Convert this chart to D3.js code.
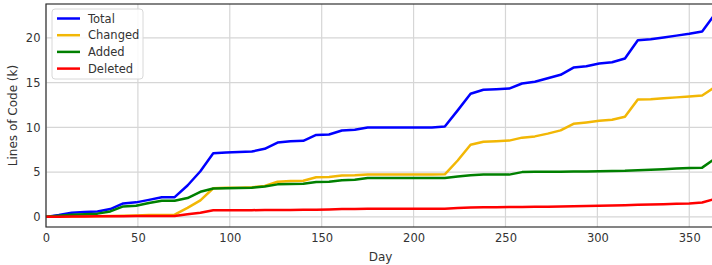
<!DOCTYPE html>
<html>
<head>
<meta charset="utf-8">
<script src="https://cdn.jsdelivr.net/npm/d3@7"></script>
<style>
  body { margin: 0; background: #fff; }
  text { font-family: "DejaVu Sans", sans-serif; fill: #333; }
</style>
</head>
<body>
<div id="chart"></div>
<script>
// weekly snapshots, values in thousands of lines
const days = d3.range(0, 365, 7)

const total = [0, 0.2, 0.47, 0.55, 0.61, 0.87, 1.5, 1.62, 1.9, 2.2, 2.2, 3.5, 5.1, 7.1,
  7.2, 7.25, 7.3, 7.6, 8.3, 8.45, 8.5, 9.15, 9.2, 9.65, 9.73, 9.98, 9.99, 9.99, 9.99, 9.99,
  9.99, 10.1, 11.9, 13.75, 14.2, 14.25, 14.33, 14.9, 15.09, 15.48, 15.87, 16.68, 16.83, 17.13,
  17.28, 17.69, 19.73, 19.85, 20.05, 20.25, 20.45, 20.7, 22.65]

const changed = [0, 0.02, 0.05, 0.06, 0.08, 0.1, 0.13, 0.15, 0.2, 0.22, 0.25, 1.0, 1.85, 3.2,
  3.25, 3.25, 3.3, 3.45, 3.92, 4.0, 4.03, 4.43, 4.45, 4.62, 4.65, 4.73, 4.74, 4.74, 4.74, 4.74,
  4.74, 4.75, 6.3, 8.05, 8.4, 8.45, 8.52, 8.85, 8.99, 9.3, 9.66, 10.4, 10.55, 10.73,
  10.85, 11.18, 13.1, 13.14, 13.24, 13.35, 13.45, 13.56, 14.5]

const added = [0, 0.12, 0.25, 0.3, 0.36, 0.61, 1.17, 1.25, 1.55, 1.8, 1.8, 2.1, 2.8, 3.17,
  3.2, 3.22, 3.25, 3.4, 3.63, 3.68, 3.7, 3.9, 3.92, 4.1, 4.15, 4.34, 4.34, 4.34, 4.34, 4.34,
  4.34, 4.34, 4.5, 4.64, 4.72, 4.72, 4.72, 5.0, 5.03, 5.04, 5.05, 5.06, 5.08, 5.1,
  5.12, 5.14, 5.2, 5.26, 5.32, 5.4, 5.45, 5.5, 6.5]

const deleted = [0, 0.02, 0.04, 0.05, 0.06, 0.07, 0.08, 0.09, 0.1, 0.1, 0.1, 0.28, 0.45, 0.74,
  0.75, 0.75, 0.75, 0.76, 0.77, 0.78, 0.79, 0.8, 0.82, 0.87, 0.88, 0.9, 0.9, 0.9, 0.9, 0.9,
  0.9, 0.9, 0.98, 1.05, 1.07, 1.08, 1.09, 1.1, 1.12, 1.14, 1.16, 1.18, 1.2, 1.25,
  1.28, 1.3, 1.35, 1.38, 1.42, 1.46, 1.5, 1.6, 2.0]

const seriesNames = ['Total', 'Changed', 'Added', 'Deleted']
const seriesColors = ['#0000ff', '#f2b705', '#008000', '#ff0000']
const seriesValues = [total, changed, added, deleted]

const xTicks = [0, 50, 100, 150, 200, 250, 300, 350]
const yTicks = [0, 5, 10, 15, 20]

const W = 712, H = 265
const margin = { top: 4, right: -3, bottom: 38, left: 46 }
const width = W - margin.left - margin.right
const height = H - margin.top - margin.bottom

const svg = d3.select('#chart').append('svg')
  .attr('width', W)
  .attr('height', H)

const g = svg.append('g')
  .attr('transform', `translate(${margin.left},${margin.top})`)

const yMax = d3.max(total)
const xScale = d3.scaleLinear().domain([0, 364]).range([0, width])
const yScale = d3.scaleLinear().domain([-0.05 * yMax, 1.05 * yMax]).range([height, 0])

// grid
g.append('g')
  .selectAll('line.gx')
  .data(xTicks)
  .enter().append('line')
  .attr('x1', d => xScale(d)).attr('x2', d => xScale(d))
  .attr('y1', 0).attr('y2', height)
  .attr('stroke', '#d6d6d6').attr('stroke-width', 1.2)

g.append('g')
  .selectAll('line.gy')
  .data(yTicks)
  .enter().append('line')
  .attr('x1', 0).attr('x2', width)
  .attr('y1', d => yScale(d)).attr('y2', d => yScale(d))
  .attr('stroke', '#d6d6d6').attr('stroke-width', 1.2)

// lines
const line = d3.line()
  .x((d, i) => xScale(days[i]))
  .y(d => yScale(d))

seriesValues.forEach((vals, k) => {
  g.append('path')
    .datum(vals)
    .attr('d', line)
    .attr('fill', 'none')
    .attr('stroke', seriesColors[k])
    .attr('stroke-width', 2.5)
    .attr('stroke-linejoin', 'round')
})

// frame
g.append('rect')
  .attr('width', width).attr('height', height)
  .attr('fill', 'none')
  .attr('stroke', '#333').attr('stroke-width', 1.2)

const xAxis = d3.axisBottom(xScale).tickValues(xTicks).tickSize(0).tickPadding(6.5)
const yAxis = d3.axisLeft(yScale).tickValues(yTicks).tickSize(0).tickPadding(5.5)

const gx = g.append('g').attr('transform', `translate(0,${height})`).call(xAxis)
const gy = g.append('g').call(yAxis)
;[gx, gy].forEach(a => {
  a.select('.domain').remove()
  a.selectAll('text').style('font-size', '11.5px').style('fill', '#333')
})

// axis labels
svg.append('text')
  .attr('x', margin.left + xScale(182))
  .attr('y', 261)
  .attr('text-anchor', 'middle')
  .style('font-size', '12px')
  .text('Day')

svg.append('text')
  .attr('transform', `translate(17,${margin.top + height / 2}) rotate(-90)`)
  .attr('text-anchor', 'middle')
  .style('font-size', '12px')
  .text('Lines of Code (k)')

// legend
const legend = svg.append('g').attr('transform', 'translate(52,9)')
legend.append('rect')
  .attr('width', 91).attr('height', 70)
  .attr('rx', 3)
  .attr('fill', 'rgba(255,255,255,0.85)')
  .attr('stroke', '#d8d8d8')

seriesNames.forEach((name, k) => {
  const row = legend.append('g').attr('transform', `translate(0,${9.5 + k * 16.7})`)
  row.append('line')
    .attr('x1', 5).attr('x2', 28)
    .attr('stroke', seriesColors[k]).attr('stroke-width', 2.5)
  row.append('text')
    .attr('x', 36).attr('y', 4)
    .style('font-size', '11.5px')
    .text(name)
})
</script>
</body>
</html>
